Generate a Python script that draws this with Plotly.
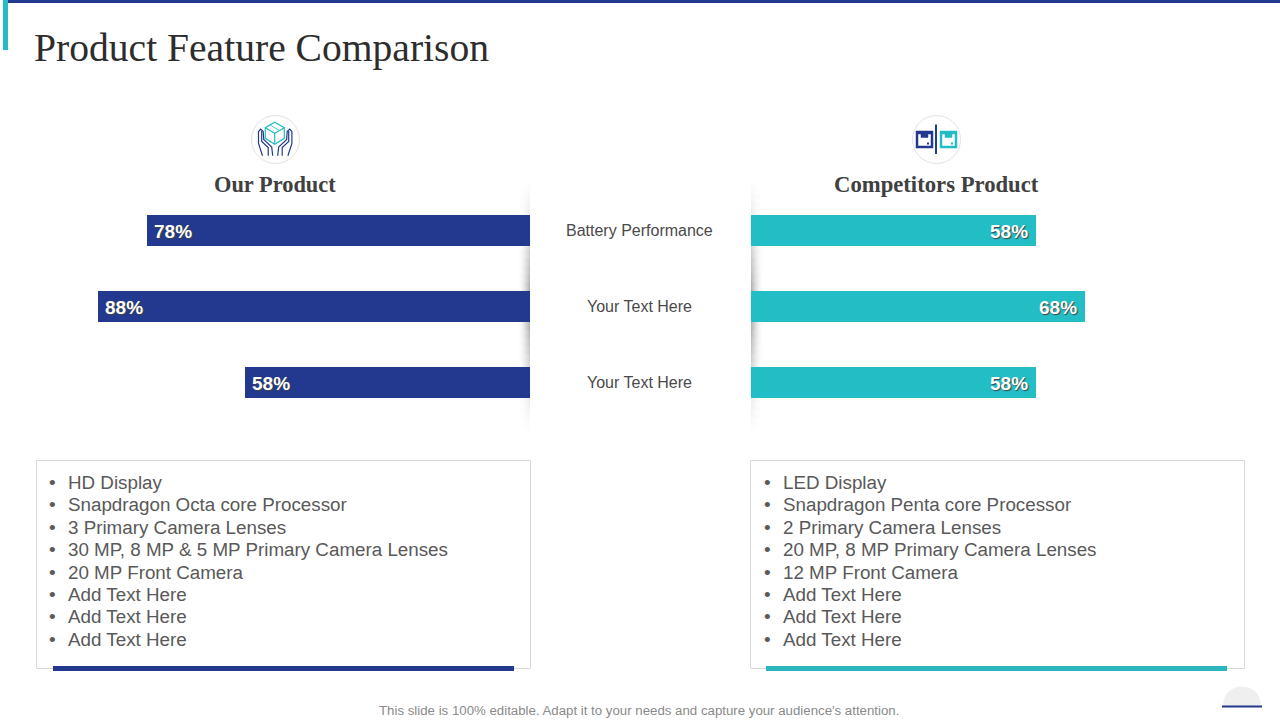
import plotly.graph_objects as go

W = 1280
H = 720

NAVY = '#22398f'
TEAL = '#23bdc6'

categories = ['Battery Performance', 'Your Text Here', 'Your Text Here ']
our_values = [78, 88, 58]
competitor_values = [58, 68, 58]

our_features = ['HD Display', 'Snapdragon Octa core Processor', '3 Primary Camera Lenses',
                '30 MP, 8 MP & 5 MP Primary Camera Lenses', '20 MP Front Camera',
                'Add Text Here', 'Add Text Here', 'Add Text Here']
competitor_features = ['LED Display', 'Snapdragon Penta core Processor', '2 Primary Camera Lenses',
                       '20 MP, 8 MP Primary Camera Lenses', '12 MP Front Camera',
                       'Add Text Here', 'Add Text Here', 'Add Text Here']


# everything decorative is placed in slide pixels, converted to paper coords here
def X(p):
    return p / W


def Y(p):
    return 1 - p / H


def rect(x0, y0, x1, y1, color, line=None, opacity=1):
    return dict(type='rect', xref='paper', yref='paper', x0=X(x0), x1=X(x1), y0=Y(y0), y1=Y(y1),
                fillcolor=color, opacity=opacity, layer='below',
                line=dict(color=line, width=1) if line else dict(width=0))


def circle(cx, cy, r, fill, line=None):
    return dict(type='circle', xref='paper', yref='paper', x0=X(cx - r), x1=X(cx + r),
                y0=Y(cy - r), y1=Y(cy + r), fillcolor=fill, layer='below',
                line=dict(color=line, width=1) if line else dict(width=0))


def poly(points, color, width=1.2, close=False, fill='rgba(0,0,0,0)'):
    d = 'M' + ' L'.join(f'{X(a):.5f},{Y(b):.5f}' for a, b in points) + (' Z' if close else '')
    return dict(type='path', path=d, xref='paper', yref='paper', fillcolor=fill,
                line=dict(color=color, width=width), layer='above')


def text(x, y, s, size, color, anchor='center', family='Liberation Sans', bold=False):
    return dict(x=X(x), y=Y(y), xref='paper', yref='paper', text=f'<b>{s}</b>' if bold else s,
                showarrow=False, xanchor=anchor, yanchor='middle',
                font=dict(family=family, size=size, color=color))


def value_label(value, cat, xref, yref, shift):
    return dict(x=value, y=cat, xref=xref, yref=yref, text=f'<b>{value}%</b>', showarrow=False,
                xanchor='left' if shift > 0 else 'right', xshift=shift, yshift=-2,
                font=dict(family='Liberation Sans', size=19, color='white', shadow='1px 1px 1px #444444'))


fig = go.Figure()
fig.add_trace(go.Bar(y=categories, x=our_values, orientation='h', xaxis='x', yaxis='y',
                     marker=dict(color=NAVY, line=dict(width=0)), width=0.408))
fig.add_trace(go.Bar(y=categories, x=competitor_values, orientation='h', xaxis='x2', yaxis='y2',
                     marker=dict(color=TEAL, line=dict(width=0)), width=0.408))

shapes = [
    rect(8, 0, 1280, 3, NAVY),
    rect(3, 0, 8, 50, TEAL),
    rect(36.5, 460.5, 530.5, 668.5, 'white', '#d9d9d9'),
    rect(750.5, 460.5, 1244.5, 668.5, 'white', '#d9d9d9'),
    rect(53, 666, 514, 671, NAVY),
    rect(766, 666, 1227, 671, '#2bb5bd'),
    circle(275.5, 139.5, 24, 'white', '#e6e0dc'),
    circle(936.5, 139.5, 24, 'white', '#e2e2e8'),
]

# soft shadow down both sides of the centre panel, strongest around the middle row
for i in range(33):
    top = 178 + i * 8
    strength = max(0, 1 - abs(top + 4 - 306) / 130) ** 1.3
    for j in range(12):
        a = 0.36 * strength * ((12 - j) / 12) ** 1.8
        shapes.append(rect(530 - j - 1, top, 530 - j, top + 8, 'black', opacity=a))
        shapes.append(rect(751 + j, top, 751 + j + 1, top + 8, 'black', opacity=a))

# hands + box icon
shapes.append(poly([(274.7, 122.3), (284.3, 127.7), (284.3, 138.3), (274.7, 144.3),
                    (265.3, 138.3), (265.3, 127.7)], TEAL, close=True))
shapes.append(poly([(265.3, 127.7), (274.7, 133.3), (284.3, 127.7)], TEAL))
shapes.append(poly([(274.7, 133.3), (274.7, 144.3)], TEAL))
shapes.append(poly([(270, 125), (279.5, 130.5)], TEAL, width=0.8))
for sign in (-1, 1):
    hand = [(-12.7, 16.2), (-16.7, 4), (-16.7, -8), (-14.5, -10.5), (-12, -8), (-11.5, 0),
            (-3.5, 7.5), (-2.5, 16.2)]
    fingers = [(-13.5, -8.5), (-13.5, 2), (-7, 8), (-7, 16.2)]
    shapes.append(poly([(275.2 + sign * a, 139.5 + b) for a, b in hand], NAVY))
    shapes.append(poly([(275.2 + sign * a, 139.5 + b) for a, b in fingers], NAVY))

# two boxes icon
shapes.append(rect(935, 124.5, 937, 154, NAVY))
for x0, c in ((917, NAVY), (941, TEAL)):
    shapes.append(poly([(x0, 132), (x0 + 15, 132), (x0 + 15, 147), (x0, 147)], c, width=2.5, close=True))
    shapes.append(poly([(x0 + 1, 132), (x0 + 14, 132), (x0 + 14, 134), (x0 + 11, 134), (x0 + 11, 137.5),
                        (x0 + 4, 137.5), (x0 + 4, 134), (x0 + 1, 134)], c, width=0.5, close=True, fill=c))
    shapes.append(rect(x0 + 10, 142.5, x0 + 12, 144.5, c))

# page number tab
shapes.append(dict(type='path', xref='paper', yref='paper', layer='below', fillcolor='#efefef',
                   line=dict(width=0),
                   path=f'M{X(1223)},{Y(706)} C{X(1223)},{Y(680)} {X(1261)},{Y(680)} {X(1261)},{Y(706)} Z'))
shapes.append(rect(1222, 705.5, 1262, 707.5, NAVY))

annotations = [
    text(32, 48.5, 'Product Feature Comparison', 39.6, '#2d2d2d', 'left', 'Liberation Serif'),
    text(274.7, 184, 'Our Product', 22.4, '#404040', family='Liberation Serif', bold=True),
    text(936.5, 184, 'Competitors Product', 22.7, '#404040', family='Liberation Serif', bold=True),
    text(638.5, 710.5, "This slide is 100% editable. Adapt it to your needs and capture your audience's attention.",
         13.25, '#8a8a8a'),
]

for name in categories:
    annotations.append(dict(x=X(639.8), y=name, xref='paper', yref='y', text=name.strip(), showarrow=False,
                            yshift=-1, font=dict(family='Liberation Sans', size=16, color='#4a4a4a')))

for v, name in zip(our_values, categories):
    annotations.append(value_label(v, name, 'x', 'y', 5))
for v, name in zip(competitor_values, categories):
    annotations.append(value_label(v, name, 'x2', 'y2', -6))

for x0, features in ((47, our_features), (762, competitor_features)):
    for i, item in enumerate(features):
        y = 482.5 + i * 22.4
        annotations.append(text(x0, y, '•', 19, '#595959', 'left'))
        annotations.append(text(x0 + 19, y, item, 18.8, '#595959', 'left'))

scale = 4.91
fig.update_layout(
    width=W, height=H, margin=dict(l=0, r=0, t=0, b=0), paper_bgcolor='white', plot_bgcolor='rgba(0,0,0,0)',
    showlegend=False, bargap=0, shapes=shapes, annotations=annotations,
    xaxis=dict(domain=[0, X(530)], range=[530 / scale, 0], visible=False),
    xaxis2=dict(domain=[X(751), 1], range=[0, 529 / scale], visible=False),
    yaxis=dict(domain=[Y(419.5), Y(191.5)], autorange='reversed', visible=False, anchor='x'),
    yaxis2=dict(domain=[Y(419.5), Y(191.5)], autorange='reversed', visible=False, anchor='x2'),
)

# the page's default body margin would push the slide 8px off
fig.write_html('out.html', config=dict(displayModeBar=False),
               post_script="document.body.style.margin='0';document.documentElement.style.overflow='hidden';")
